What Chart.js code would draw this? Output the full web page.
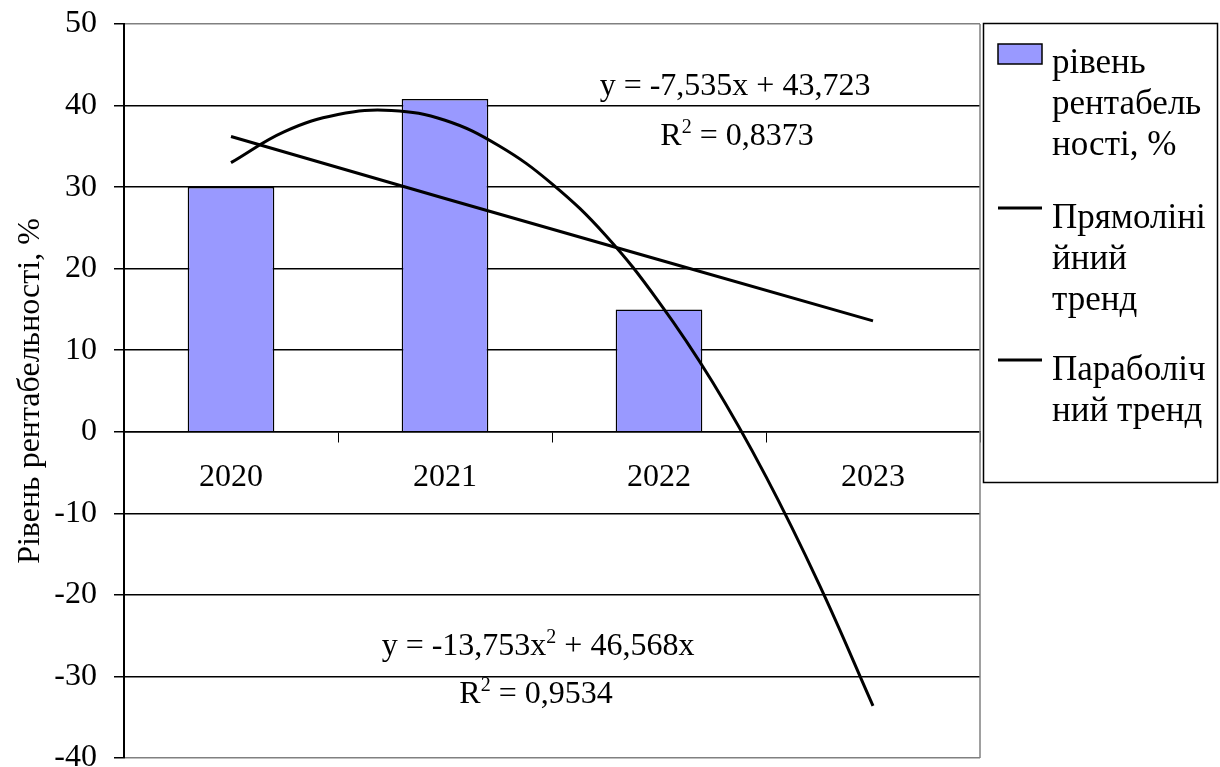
<!DOCTYPE html>
<html>
<head>
<meta charset="utf-8">
<script src="https://cdn.jsdelivr.net/npm/chart.js@4.4.0/dist/chart.umd.min.js"></script>
<style>
body { margin: 0; background: #fff; }
#wrap { width: 1220px; height: 767px; }
</style>
</head>
<body>
<div id="wrap"><canvas id="myChart"></canvas></div>
<script>
// data
const years = ['2020', '2021', '2022', '2023']
const profitability = [30, 40.8, 15, null]
const trendX = [1, 2, 3, 4]
const linearTrend = [36.2, 28.6, 21.1, 13.6]
const parabolaX = [1, 1.25, 1.5, 1.75, 2, 2.25, 2.5, 2.75, 3, 3.25, 3.5, 3.75, 4]
const parabolaTrend = [33.0, 36.8, 38.9, 39.4, 38.2, 35.1, 30.4, 24.1, 15.9, 6.1, -5.5, -18.8, -33.6]

const seriesNames = ['рівень рентабельності, %', 'Прямолінійний тренд', 'Параболічний тренд']
const legendLines = [['рівень', 'рентабель', 'ності, %'], ['Прямоліні', 'йний', 'тренд'], ['Параболіч', 'ний тренд']]
const axisTitle = 'Рівень рентабельності, %'
const linearEq = [['y = -7,535x + 43,723'], ['R', '2', ' = 0,8373']]
const parabolaEq = [['y = -13,753x', '2', ' + 46,568x'], ['R', '2', ' = 0,9534']]

const FONT = "'Liberation Serif', 'Times New Roman', serif"
const BAR_COLOR = '#9999FF'

// text with superscripts: odd parts are raised
function richText(ctx, parts, cx, base) {
    const big = '32px ' + FONT, small = '20px ' + FONT
    let w = 0
    parts.forEach((p, i) => { ctx.font = i % 2 ? small : big; w += ctx.measureText(p).width })
    let x = cx - w / 2
    ctx.textAlign = 'left'
    ctx.textBaseline = 'alphabetic'
    parts.forEach((p, i) => {
        ctx.font = i % 2 ? small : big
        ctx.fillText(p, x, i % 2 ? base - 12 : base)
        x += ctx.measureText(p).width
    })
}

const extras = {
    id: 'extras',
    beforeDatasetsDraw(chart) {
        const {ctx, chartArea: a} = chart
        ctx.save()
        ctx.strokeStyle = '#808080'
        ctx.lineWidth = 1.5
        ctx.beginPath()
        ctx.moveTo(a.right, a.top)
        ctx.lineTo(a.right, a.bottom)
        ctx.stroke()
        ctx.restore()
    },
    afterDraw(chart) {
        const ctx = chart.ctx
        ctx.save()
        ctx.fillStyle = '#000'
        // trend equations
        richText(ctx, linearEq[0], 735, 95)
        richText(ctx, linearEq[1], 737, 145)
        richText(ctx, parabolaEq[0], 538, 655)
        richText(ctx, parabolaEq[1], 536, 703)

        // legend box
        ctx.strokeStyle = '#000'
        ctx.lineWidth = 1.5
        ctx.strokeRect(983.5, 23.5, 234, 459)
        ctx.fillStyle = BAR_COLOR
        ctx.fillRect(998, 44, 44, 20)
        ctx.strokeRect(998, 44, 44, 20)
        ctx.lineWidth = 3
        ;[208, 360].forEach(y => {
            ctx.beginPath()
            ctx.moveTo(998, y)
            ctx.lineTo(1042, y)
            ctx.stroke()
        })
        ctx.fillStyle = '#000'
        ctx.font = '35px ' + FONT
        ctx.textAlign = 'left'
        ctx.textBaseline = 'alphabetic'
        const starts = [73, 228, 380]
        legendLines.forEach((lines, g) => {
            lines.forEach((t, i) => ctx.fillText(t, 1052, starts[g] + i * 41))
        })
        ctx.restore()
    }
}

const ctx = document.getElementById('myChart')
const myChart = new Chart(ctx, {
    type: 'bar',
    data: {
        labels: years,
        datasets: [{
            label: seriesNames[0],
            data: profitability,
            backgroundColor: BAR_COLOR,
            borderColor: '#000',
            borderWidth: 1.5,
            barPercentage: 0.405,
            categoryPercentage: 1,
            grouped: false,
            order: 1
        }, {
            type: 'line',
            label: seriesNames[1],
            xAxisID: 'x2',
            data: trendX.map((x, i) => ({x: x, y: linearTrend[i]})),
            borderColor: '#000',
            borderWidth: 3,
            pointRadius: 0,
            order: 0
        }, {
            type: 'line',
            label: seriesNames[2],
            xAxisID: 'x2',
            data: parabolaX.map((x, i) => ({x: x, y: parabolaTrend[i]})),
            borderColor: '#000',
            borderWidth: 3,
            pointRadius: 0,
            tension: 0.4,
            order: 0
        }]
    },
    options: {
        responsive: true,
        maintainAspectRatio: false,
        animation: false,
        layout: { padding: {left: 0, top: 24, right: 240, bottom: 9} },
        plugins: { legend: {display: false}, tooltip: {enabled: false} },
        scales: {
            x: {
                position: {y: 0},
                offset: true,
                ticks: { color: '#000', font: {family: FONT, size: 32}, padding: 17, maxRotation: 0 },
                grid: { drawOnChartArea: false, drawTicks: true, tickLength: 10, tickColor: '#000', offset: true },
                border: { color: '#000', width: 1.5 },
                afterFit: s => { s.paddingLeft = 0; s.paddingRight = 0 }
            },
            x2: { type: 'linear', min: 0.5, max: 4.5, offset: false, display: false },
            y: {
                min: -40,
                max: 50,
                ticks: { stepSize: 10, color: '#000', font: {family: FONT, size: 32}, padding: 17 },
                grid: {
                    color: c => (c.tick && (c.tick.value === 50 || c.tick.value === -40)) ? '#808080' : '#000',
                    tickColor: '#000',
                    tickLength: 10,
                    lineWidth: 1.5
                },
                border: { color: '#000', width: 2 },
                title: {
                    display: true,
                    text: axisTitle,
                    color: '#000',
                    font: {family: FONT, size: 32, lineHeight: 1.2},
                    padding: {top: 11, bottom: 0}
                },
                afterFit: s => { s.width = 124; s.paddingTop = 0; s.paddingBottom = 0 }
            }
        }
    },
    plugins: [extras]
})
</script>
</body>
</html>
